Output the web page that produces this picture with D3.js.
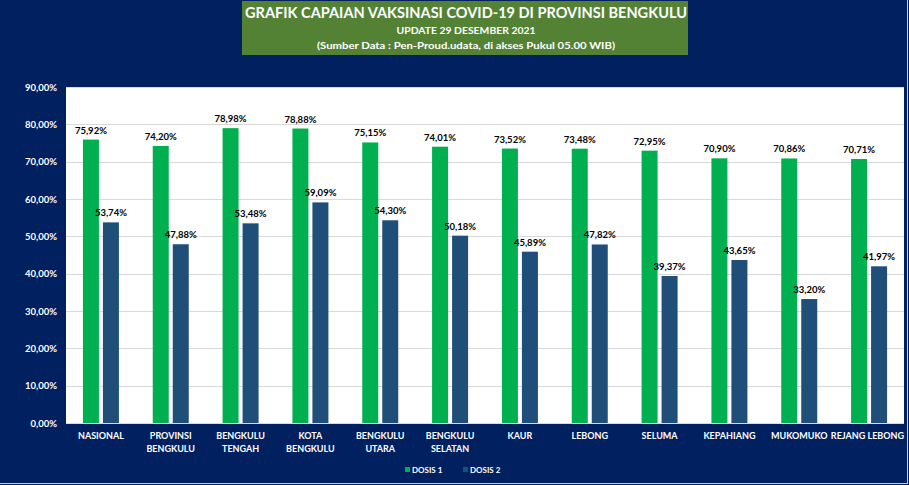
<!DOCTYPE html>
<html><head><meta charset="utf-8">
<script src="https://cdn.jsdelivr.net/npm/d3@7"></script>
<style>html,body{margin:0;padding:0;background:#fff;}svg{display:block;font-family:Lato,"Open Sans",sans-serif;}</style>
</head><body>
<svg id="c" width="909" height="485"></svg>
<script>
const categories = [["NASIONAL"],["PROVINSI","BENGKULU"],["BENGKULU","TENGAH"],["KOTA","BENGKULU"],["BENGKULU","UTARA"],["BENGKULU","SELATAN"],["KAUR"],["LEBONG"],["SELUMA"],["KEPAHIANG"],["MUKOMUKO"],["REJANG LEBONG"]];
const dosis1 = [75.92,74.20,78.98,78.88,75.15,74.01,73.52,73.48,72.95,70.90,70.86,70.71];
const dosis2 = [53.74,47.88,53.48,59.09,54.30,50.18,45.89,47.82,39.37,43.65,33.20,41.97];
const seriesNames = ["DOSIS 1","DOSIS 2"];
const yTicks = [0,10,20,30,40,50,60,70,80,90];
const titleLines = ["GRAFIK CAPAIAN VAKSINASI COVID-19 DI PROVINSI BENGKULU","UPDATE 29 DESEMBER 2021","(Sumber Data : Pen-Proud.udata, di akses  Pukul 05.00 WIB)"];

const colors = ["#00B050","#1F4E79"];
const svg = d3.select("#c");
const W=909,H=485;
svg.append("rect").attr("width",W).attr("height",H).attr("fill","#002060");
svg.append("line").attr("x1",0).attr("x2",908).attr("y1",483.5).attr("y2",483.5).attr("stroke","#c8ccd6");
svg.append("line").attr("x1",907.5).attr("x2",907.5).attr("y1",0).attr("y2",484).attr("stroke","#c8ccd6");

const L=66,R=904,T=87,B=423;
svg.append("rect").attr("x",L).attr("y",T).attr("width",R-L).attr("height",B-T).attr("fill","#fff");

const x0 = d3.scaleBand().domain(d3.range(categories.length)).range([L,R]);
const x1 = d3.scaleBand().domain([0,1]).range([x0.bandwidth()/2-18, x0.bandwidth()/2+18]).paddingInner(0.2);
const y = d3.scaleLinear().domain([0,90]).range([B,T]);
const fmt = v => v.toFixed(2).replace(".",",")+"%";

// grid
svg.append("g").selectAll("line").data(yTicks.slice(1)).join("line")
  .attr("x1",L).attr("x2",R).attr("y1",d=>Math.round(y(d))+0.5).attr("y2",d=>Math.round(y(d))+0.5)
  .attr("stroke","#d9d9d9").attr("stroke-width",1);

// y axis
const ya = svg.append("g").attr("transform",`translate(${L},0)`).call(d3.axisLeft(y).tickValues(yTicks).tickSize(0).tickPadding(9).tickFormat(fmt));
ya.select(".domain").remove();
ya.selectAll("text").attr("fill","#fff").attr("font-size","9.5px").attr("font-weight","bold").attr("font-family","Lato");

// baseline
svg.append("line").attr("x1",L).attr("x2",R).attr("y1",B+0.5).attr("y2",B+0.5).attr("stroke","#d9d9d9");

const data = categories.map((c,i)=>({i, vals:[dosis1[i],dosis2[i]]}));
const g = svg.append("g").selectAll("g").data(data).join("g").attr("transform",d=>`translate(${x0(d.i)},0)`);
g.selectAll("rect").data(d=>d.vals.map((v,k)=>({v,k}))).join("rect")
  .attr("x",d=>x1(d.k)).attr("width",x1.bandwidth())
  .attr("y",d=>y(d.v)).attr("height",d=>B-y(d.v)).attr("fill",d=>colors[d.k]);
g.selectAll("text.lbl").data(d=>d.vals.map((v,k)=>({v,k}))).join("text").attr("class","lbl")
  .attr("x",d=>x1(d.k)+x1.bandwidth()/2).attr("y",d=>y(d.v)-6)
  .attr("text-anchor","middle").attr("font-size","9.5px").attr("font-weight","bold").attr("fill","#000")
  .text(d=>fmt(d.v));

// x labels
const last = categories.length-1;
const xl = svg.append("g").selectAll("text").data(categories).join("text")
  .attr("x",(d,i)=> i===last ? R : x0(i)+x0.bandwidth()/2).attr("y",439)
  .attr("text-anchor",(d,i)=> i===last ? "end" : "middle").attr("fill","#fff").attr("font-size","9px").attr("font-weight","bold");
xl.selectAll("tspan").data(d=>d).join("tspan").attr("x",function(){return this.parentNode.getAttribute("x");})
  .attr("dy",(d,i)=>i?13:0).text(d=>d);

// legend
const lg = svg.append("g");
const lx=[405,463];
seriesNames.forEach((s,k)=>{
  lg.append("rect").attr("x",lx[k]).attr("y",467).attr("width",5).attr("height",5).attr("fill",colors[k]);
  lg.append("text").attr("x",lx[k]+7).attr("y",472.5).attr("fill","#fff").attr("font-size","8px").attr("font-weight","bold").text(s);
});

// title
svg.append("rect").attr("x",242).attr("y",1).attr("width",446).attr("height",54).attr("fill","#548235");
const tl=[{y:18,s:15.5,w:442},{y:34,s:10,w:139},{y:48.5,s:10,w:298}];
titleLines.forEach((t,i)=>{
  svg.append("text").attr("x",466).attr("y",tl[i].y).attr("text-anchor","middle").attr("fill","#fff")
    .attr("font-weight","bold").attr("font-size",tl[i].s+"px").attr("textLength",tl[i].w).attr("lengthAdjust","spacingAndGlyphs").text(t);
});
</script>
</body></html>
